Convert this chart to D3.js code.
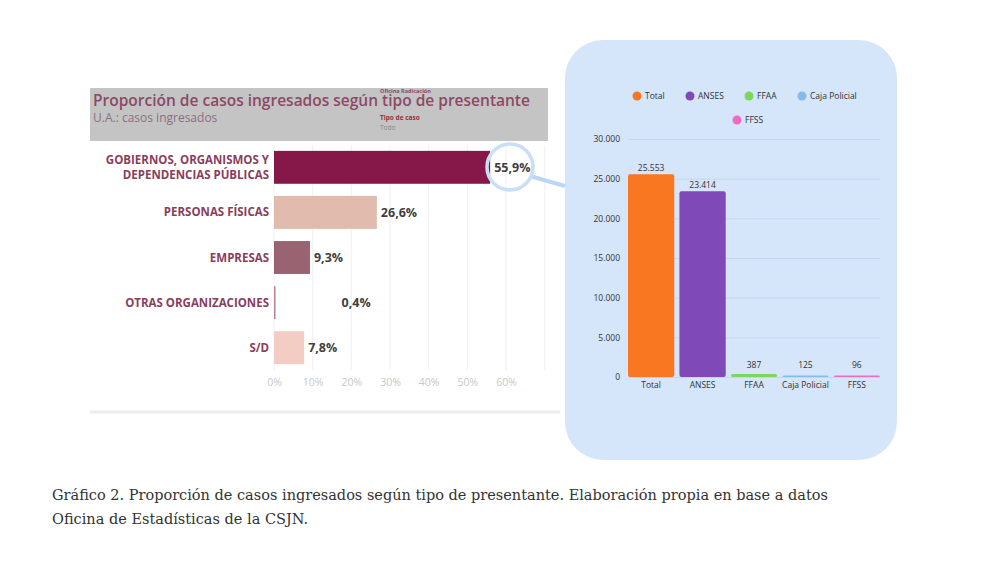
<!DOCTYPE html>
<meta charset="utf-8">
<style>
body{margin:0;background:#fff;}
text{font-family:"Open Sans",sans-serif;}
</style>
<body>
<script src="https://cdn.jsdelivr.net/npm/d3@7"></script>
<script>
// left chart data
var categories=[["GOBIERNOS, ORGANISMOS Y","DEPENDENCIAS PÚBLICAS"],["PERSONAS FÍSICAS"],["EMPRESAS"],["OTRAS ORGANIZACIONES"],["S/D"]];
var shares=[55.9,26.6,9.3,0.4,7.8];
var shareLabels=["55,9%","26,6%","9,3%","0,4%","7,8%"];
var barColors=["#861849","#e1bcae","#9a6371","#b9868f","#f3cdc3"];
var pctTicks=[0,10,20,30,40,50,60];

// right chart data
var orgs=["Total","ANSES","FFAA","Caja Policial","FFSS"];
var cases=[25553,23414,387,125,96];
var orgColors=["#f97720","#8049b8","#7bd85a","#85bdea","#f06cbf"];
var countTicks=[0,5000,10000,15000,20000,25000,30000];

var svg=d3.select("body").append("svg").attr("width",1000).attr("height",566);
var fmt=d3.formatLocale({decimal:",",thousands:".",grouping:[3],currency:["",""]}).format(",d");

// ---- left panel
svg.append("rect").attr("x",90).attr("y",88).attr("width",458).attr("height",53).attr("fill","#c4c4c4");
svg.append("text").attr("x",380).attr("y",93).attr("font-size",5.5).attr("font-weight",700).attr("fill","#8a4a66").text("Oficina Radicación");
svg.append("text").attr("x",93).attr("y",106).attr("font-size",15.5).attr("font-weight",600).attr("fill","#8a4a66")
	.text("Proporción de casos ingresados según tipo de presentante");
svg.append("text").attr("x",93).attr("y",122).attr("font-size",12).attr("fill","#8a7080").text("U.A.: casos ingresados");
svg.append("text").attr("x",380).attr("y",120).attr("font-size",6.5).attr("font-weight",700).attr("fill","#9b2f3f").text("Tipo de caso");
svg.append("text").attr("x",380).attr("y",130).attr("font-size",6.5).attr("fill","#888").text("Todo");
svg.append("line").attr("x1",90).attr("x2",560).attr("y1",412).attr("y2",412).attr("stroke","#ececec").attr("stroke-width",3);

var x=d3.scaleLinear().domain([0,60]).range([274,506]);
var y=d3.scaleBand().domain(d3.range(5)).range([145,370]).paddingInner(0.27).paddingOuter(0.13);

var gl=svg.append("g");
gl.selectAll("line.grid").data(d3.range(0,71,10)).join("line")
	.attr("x1",d=>x(d)).attr("x2",d=>x(d)).attr("y1",145).attr("y2",370)
	.attr("stroke","#f1f1f1");
gl.selectAll("rect.bar").data(shares).join("rect").attr("class","bar")
	.attr("x",x(0)).attr("y",(d,i)=>y(i)).attr("height",y.bandwidth())
	.attr("width",d=>Math.max(1.5,x(d)-x(0))).attr("fill",(d,i)=>barColors[i]);
gl.selectAll("text.val").data(shares).join("text")
	.attr("x",(d,i)=>i==3?x(d)+66:x(d)+4).attr("y",(d,i)=>y(i)+y.bandwidth()/2+4.5)
	.attr("font-size",12.5).attr("font-weight",700).attr("fill","#404040")
	.text((d,i)=>shareLabels[i]);
gl.selectAll("text.cat").data(categories).join("text")
	.attr("text-anchor","end").attr("font-size",11.5).attr("font-weight",700).attr("fill","#8a3e5c")
	.attr("y",(d,i)=>y(i)+y.bandwidth()/2+4-(d.length-1)*7.5)
	.each(function(d){
		d3.select(this).selectAll("tspan").data(d).join("tspan").attr("x",269).attr("dy",(t,j)=>j?15:0).text(t=>t);
	});
var xa=svg.append("g").attr("transform","translate(0,376)")
	.call(d3.axisBottom(x).tickValues(pctTicks).tickFormat(d=>d+"%").tickSize(0));
xa.select(".domain").remove();
xa.selectAll("text").attr("font-size",10.5).attr("fill","#c8c8c8").attr("font-family","Open Sans");

// ---- right panel
svg.append("rect").attr("x",565).attr("y",40).attr("width",332).attr("height",420).attr("rx",38).attr("fill","#d5e5fa");

var xb=d3.scaleBand().domain(orgs).range([628,880]).paddingInner(0.1).paddingOuter(0);
var yb=d3.scaleLinear().domain([0,30000]).range([377,139]);
var gr=svg.append("g");
var ya=gr.append("g").attr("transform","translate(628,0)")
	.call(d3.axisLeft(yb).tickValues(countTicks).tickFormat(fmt).tickSize(-252).tickPadding(8));
ya.select(".domain").remove();
ya.selectAll("line").attr("stroke","#c5d7ee");
ya.selectAll("text").attr("font-size",8.5).attr("fill","#333").attr("font-family","Open Sans");
gr.selectAll("rect.b").data(cases).join("rect")
	.attr("x",(d,i)=>xb(orgs[i])).attr("width",xb.bandwidth())
	.attr("y",d=>Math.min(yb(d),yb(0)-1.5)).attr("height",d=>Math.max(1.5,yb(0)-yb(d)))
	.attr("rx",2).attr("fill",(d,i)=>orgColors[i]);
gr.selectAll("text.v").data(cases).join("text")
	.attr("x",(d,i)=>xb(orgs[i])+xb.bandwidth()/2).attr("y",d=>Math.min(yb(d),yb(0)-6)-3)
	.attr("text-anchor","middle").attr("font-size",8.5).attr("fill","#333").text(d=>fmt(d));
var xba=gr.append("g").attr("transform","translate(0,377)").call(d3.axisBottom(xb).tickSize(0).tickPadding(5));
xba.select(".domain").remove();
xba.selectAll("text").attr("font-size",8.5).attr("fill","#333").attr("font-family","Open Sans");

var legPos=[[637,96],[690,96],[749,96],[802,96],[737,120]];
var lg=svg.append("g").selectAll("g").data(orgs).join("g").attr("transform",(d,i)=>"translate("+legPos[i]+")");
lg.append("circle").attr("r",4.5).attr("fill",(d,i)=>orgColors[i]);
lg.append("text").attr("x",8).attr("y",3).attr("font-size",8.5).attr("fill","#333").text(d=>d);

// magnifier
svg.append("line").attr("x1",530).attr("y1",176).attr("x2",565).attr("y2",186).attr("stroke","#bcd6f5").attr("stroke-width",4);
svg.append("circle").attr("cx",510).attr("cy",167).attr("r",23).attr("fill","none").attr("stroke","#c9def7").attr("stroke-width",3.5);

// caption
var cap=svg.append("text").style("font-family","'DejaVu Serif','Liberation Serif',serif").attr("font-size",14.5).attr("fill","#333");
cap.append("tspan").attr("x",52).attr("y",500).text("Gráfico 2. Proporción de casos ingresados según tipo de presentante. Elaboración propia en base a datos");
cap.append("tspan").attr("x",52).attr("y",524).text("Oficina de Estadísticas de la CSJN.");
</script>
</body>
